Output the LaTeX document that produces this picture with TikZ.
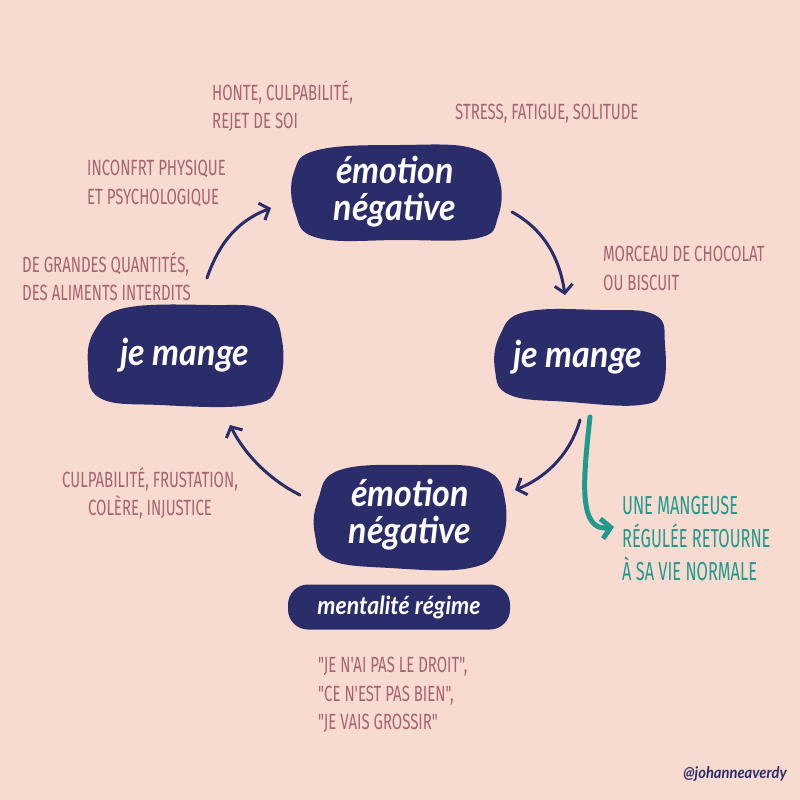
\documentclass[tikz,border=0pt]{standalone}
\usepackage{fontspec}
\usetikzlibrary{arrows.meta}
\setmainfont{Fira Sans}
\newfontfamily\lblfont[FakeStretch=0.68]{Fira Sans}
\newfontfamily\tealfont[FakeStretch=0.63]{Fira Sans}
\newfontfamily\blobfont[FakeStretch=0.92]{Lato}
\definecolor{bg}{HTML}{F7DBD0}
\definecolor{navy}{HTML}{2B2C6A}
\definecolor{mauve}{HTML}{A5646F}
\definecolor{tealc}{HTML}{1F9A8C}
\tikzset{
  blob/.style={fill=navy},
  blobtxt/.style={text=white, align=center, font=\blobfont\bfseries\itshape\fontsize{37}{37}\selectfont, inner sep=0pt},
  lbl/.style={text=mauve, align=left, font=\lblfont\fontsize{22}{28.5}\selectfont, inner sep=0pt, anchor=north west},
  cyc/.style={draw=navy, line width=3pt, line cap=round, -{Straight Barb[length=8pt,width=18pt,line width=3pt]}},
  tealarrow/.style={draw=tealc, line width=5pt, line cap=round, -{Straight Barb[length=9pt,width=20pt,line width=5pt]}}
}
\begin{document}
\begin{tikzpicture}[x=1pt,y=-1pt]
\useasboundingbox (0,0) rectangle (800,800);
\fill[bg] (0,0) rectangle (800,800);
% blobs
\fill[blob] plot[smooth cycle, tension=0.7] coordinates {(294,172) (318,150) (400,145) (475,149) (499,178) (498,217) (478,238) (400,240) (318,238) (295,212)};
\fill[blob] plot[smooth cycle, tension=0.7] coordinates {(500,335) (525,312) (600,310) (655,315) (665,345) (662,390) (640,405) (570,402) (510,395) (495,370)};
\fill[blob] plot[smooth cycle, tension=0.7] coordinates {(95,330) (125,308) (210,305) (265,310) (282,340) (278,385) (250,405) (160,405) (100,398) (88,365)};
\fill[blob] plot[smooth cycle, tension=0.7] coordinates {(318,500) (340,470) (420,465) (485,470) (505,500) (500,545) (470,568) (390,568) (330,560) (315,535)};
\node[blobtxt] (top) at (395,192) {émotion\\négative};
\node[blobtxt] (right) at (578,357) {je mange};
\node[blobtxt] (left) at (185,355) {je mange};
\node[blobtxt] (bottom) at (410,515) {émotion\\négative};
\node[fill=navy, rounded corners=20pt, minimum width=222pt, minimum height=45pt, text=white, font=\blobfont\bfseries\itshape\fontsize{25}{25}\selectfont, inner sep=0pt] (regime) at (399,607) {mentalité régime};
% cycle arrows
\coordinate (tlA) at (207,278); \coordinate (tlB) at (271,208);
\coordinate (trA) at (512,212); \coordinate (trB) at (565,295);
\coordinate (brA) at (580,420); \coordinate (brB) at (515,490);
\coordinate (blA) at (300,495); \coordinate (blB) at (230,425);
\coordinate (tA) at (590,417); \coordinate (tB) at (614,527);
\draw[cyc] (tlA) .. controls (220,240) and (240,220) .. (tlB);
\draw[cyc] (trA) .. controls (545,230) and (560,260) .. (trB);
\draw[cyc] (brA) .. controls (570,455) and (545,478) .. (brB);
\draw[cyc] (blA) .. controls (270,480) and (245,455) .. (blB);
\draw[tealarrow] (tA) .. controls (583,480) and (578,532) .. (tB);
% labels
\node[lbl] (l1) at (212,80) {HONTE, CULPABILITÉ,\\REJET DE SOI};
\node[lbl] (l2) at (455,104) {STRESS, FATIGUE, SOLITUDE};
\node[lbl] (l3) at (87,160) {INCONFRT PHYSIQUE\\ET PSYCHOLOGIQUE};
\node[lbl] (l4) at (22,252) {DE GRANDES QUANTITÉS,\\DES ALIMENTS INTERDITS};
\node[lbl] (l5) at (603,246) {MORCEAU DE CHOCOLAT\\OU BISCUIT};
\node[lbl, align=center] (l6) at (62,467) {CULPABILITÉ, FRUSTATION,\\COLÈRE, INJUSTICE};
\node[lbl, text=tealc, font=\tealfont\fontsize{26}{33}\selectfont] (l7) at (622,496) {UNE MANGEUSE\\RÉGULÉE RETOURNE\\À SA VIE NORMALE};
\node[lbl] (l8) at (318,657) {"JE N'AI PAS LE DROIT",\\"CE N'EST PAS BIEN",\\"JE VAIS GROSSIR"};
\node[text=navy, font=\blobfont\bfseries\itshape\fontsize{16}{16}\selectfont, anchor=base east, inner sep=0pt] (sig) at (787,778) {@johanneaverdy};
\end{tikzpicture}
\end{document}
